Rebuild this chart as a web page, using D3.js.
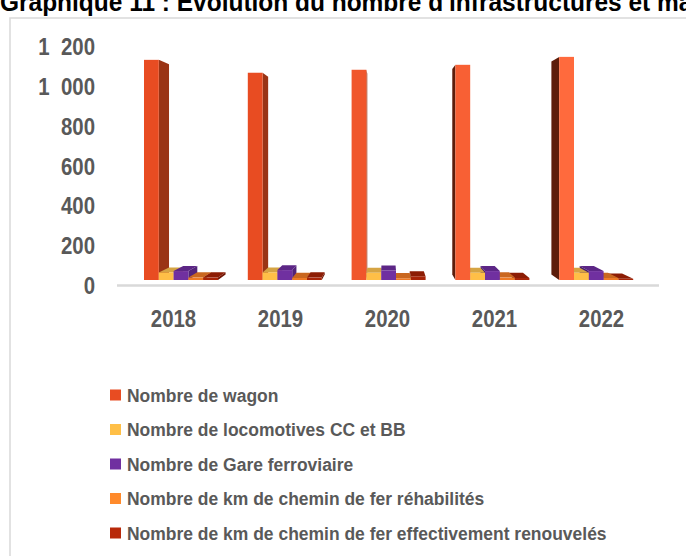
<!DOCTYPE html>
<html>
<head>
<meta charset="utf-8">
<script src="https://cdn.jsdelivr.net/npm/d3@7"></script>
<style>
  body { margin: 0; background: #fff; }
  text { font-family: "Liberation Sans", Arial, sans-serif; font-weight: bold; }
</style>
</head>
<body>
<div id="chart"></div>
<script>
// categories
const years = ["2018", "2019", "2020", "2021", "2022"];
const seriesNames = [
    "Nombre de wagon",
    "Nombre de locomotives CC et BB",
    "Nombre de Gare ferroviaire",
    "Nombre de km de chemin de fer réhabilités",
    "Nombre de km de chemin de fer effectivement renouvelés"
];

// series values
const wagons      = [1110, 1045, 1060, 1085, 1125];
const locomotives = [38, 38, 36, 36, 36];
const gares       = [45, 50, 48, 45, 45];
const kmRehab     = [12, 10, 8, 12, 10];
const kmRenouv    = [12, 12, 18, 10, 6];

// axis ticks
const yTicks = [0, 200, 400, 600, 800, 1000, 1200];

const allValues = [wagons, locomotives, gares, kmRehab, kmRenouv];

// colours: legend / front, right side, left side, top
const colors = [
    {legend: "#E84C22", front: "#E84C22", sideR: "#9A3415", sideL: "#5C1D0B", top: "#C23F18"},
    {legend: "#FFBF47", front: "#FFBF47", sideR: "#D39F3E", sideL: "#A87C2C", top: "#D6A443"},
    {legend: "#7030A0", front: "#7030A0", sideR: "#52237A", sideL: "#451D68", top: "#5C2686"},
    {legend: "#FF8A2B", front: "#EE7A25", sideR: "#B85A1A", sideL: "#9A4A14", top: "#C9671F"},
    {legend: "#B8290A", front: "#A82408", sideR: "#701605", sideL: "#5E1204", top: "#8C1D05"}
];

const width = 686, height = 556;

const svg = d3.select("#chart").append("svg")
    .attr("width", width)
    .attr("height", height);

// frame
svg.append("rect")
    .attr("x", 10).attr("y", 18)
    .attr("width", 720).attr("height", 600)
    .attr("fill", "none")
    .attr("stroke", "#d9d9d9")
    .attr("stroke-width", 1.5);

// title (cut by the top of the picture)
svg.append("text")
    .attr("transform", "translate(0,11) scale(0.96,1)")
    .attr("font-size", 25.5)
    .attr("fill", "#000")
    .text("Graphique  11 : Evolution du nombre d'infrastructures et matériels ferroviaires");

// scales
let y = d3.scaleLinear().domain([0, 1200]).range([280, 42]);
let yAxisScale = y.copy().range([285, 46]);

let xLabel = d3.scaleBand().domain(years).range([120, 655]);

let xGroup = d3.scaleBand().domain(years)
    .range([144, 144 + 103.8 * 4 + 74])
    .paddingInner(0.287)
    .paddingOuter(0);

let xSeries = d3.scaleBand().domain(seriesNames).range([0, xGroup.bandwidth()]);

// perspective: vanishing point and depth factor
const xv = 386, yv = 160, s = 0.955;
function proj(px, py) {
    return [xv + (px - xv) * s, yv + (py - yv) * s];
}

// floor line
svg.append("line")
    .attr("x1", 117).attr("x2", 659)
    .attr("y1", 285.5).attr("y2", 285.5)
    .attr("stroke", "#d9d9d9")
    .attr("stroke-width", 2.5);

// y axis
let yAxis = d3.axisLeft(yAxisScale)
    .tickValues(yTicks)
    .tickSize(0)
    .tickPadding(0)
    .tickFormat(d => d >= 1000 ? Math.floor(d / 1000) + "  " + d3.format("03d")(d % 1000) : d);

let gy = svg.append("g")
    .attr("transform", "translate(95,0)")
    .call(yAxis);
gy.select(".domain").remove();
gy.selectAll("text")
    .attr("font-size", 24)
    .attr("fill", "#595959")
    .style("white-space", "pre")
    .attr("transform", "scale(0.85,1)")
    .attr("dy", "0.36em");

// x axis labels
let xAxis = d3.axisBottom(xLabel).tickSize(0).tickPadding(0);
let gx = svg.append("g")
    .attr("transform", "translate(0,318)")
    .call(xAxis);
gx.select(".domain").remove();
gx.selectAll("text")
    .attr("font-size", 24)
    .attr("fill", "#595959")
    .attr("transform", "scale(0.85,1)")
    .attr("dy", "0.36em");

// build bar list
let bars = [];
years.forEach((yr, i) => {
    seriesNames.forEach((name, j) => {
        let x0 = xGroup(yr) + xSeries(name);
        let x1 = x0 + xSeries.bandwidth();
        bars.push({year: yr, series: j, value: allValues[j][i], x0: x0, x1: x1});
    });
});

// farthest from the vanishing point first
bars.sort((a, b) => Math.max(Math.abs(b.x0 - xv), Math.abs(b.x1 - xv)) -
                    Math.max(Math.abs(a.x0 - xv), Math.abs(a.x1 - xv)));

let line = d3.line();

let barG = svg.append("g").attr("class", "bars");

bars.forEach(d => {
    let c = colors[d.series];
    let yT = y(d.value), yB = y(0);
    let g = barG.append("g");

    // side face
    if (d.x1 <= xv) {
        g.append("path")
            .attr("d", line([[d.x1, yT], proj(d.x1, yT), proj(d.x1, yB), [d.x1, yB]]) + "Z")
            .attr("fill", c.sideR);
    } else if (d.x0 >= xv) {
        g.append("path")
            .attr("d", line([[d.x0, yT], proj(d.x0, yT), proj(d.x0, yB), [d.x0, yB]]) + "Z")
            .attr("fill", c.sideL);
    }

    // top face, seen only when below eye level
    if (yT > yv) {
        g.append("path")
            .attr("d", line([[d.x0, yT], [d.x1, yT], proj(d.x1, yT), proj(d.x0, yT)]) + "Z")
            .attr("fill", c.top);
    }

    // front face
    let frontFill = c.front;
    if (d.series === 0) {
        let t = Math.max(0, Math.min(1, ((d.x0 + d.x1) / 2 - 260) / 300));
        frontFill = d3.interpolateRgb("#E84C22", "#FF6A3D")(t);
    }
    g.append("rect")
        .attr("x", d.x0)
        .attr("y", yT)
        .attr("width", d.x1 - d.x0)
        .attr("height", yB - yT)
        .attr("fill", frontFill);
});

// legend
let legend = svg.append("g").attr("transform", "translate(110,395)");
seriesNames.forEach((name, j) => {
    let row = legend.append("g").attr("transform", "translate(0," + (j * 34.5) + ")");
    row.append("rect")
        .attr("x", 0).attr("y", -5.5)
        .attr("width", 11).attr("height", 11)
        .attr("fill", colors[j].legend);
    row.append("text")
        .attr("transform", "translate(17,0) scale(0.945,1)")
        .attr("font-size", 18.5)
        .attr("fill", "#595959")
        .attr("dy", "0.36em")
        .text(name);
});
</script>
</body>
</html>
